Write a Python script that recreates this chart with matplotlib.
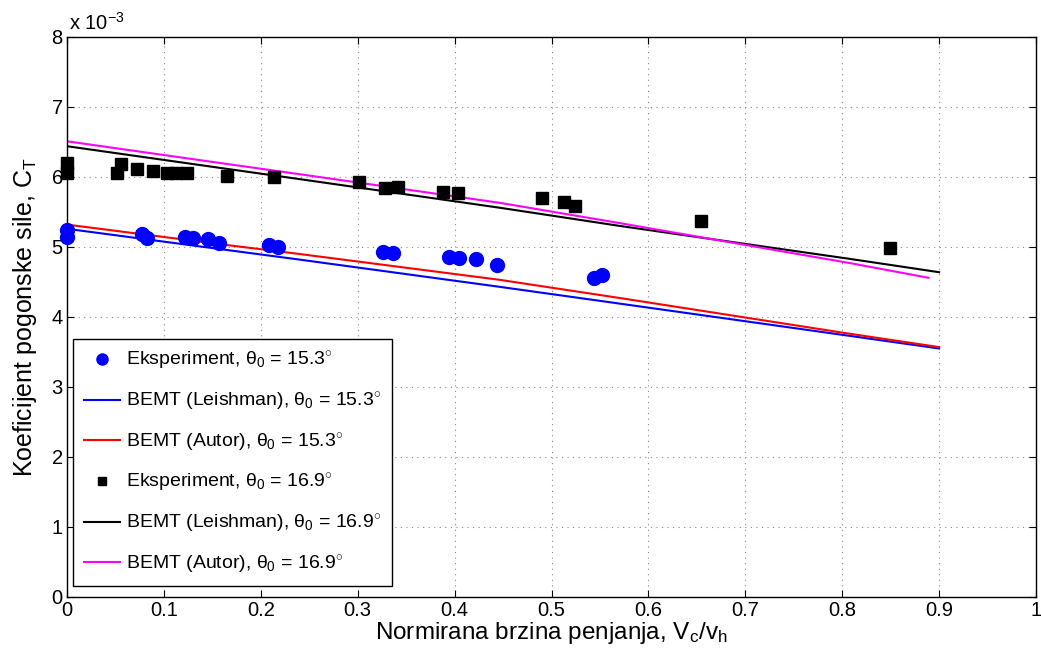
import matplotlib
matplotlib.use("Agg")
import matplotlib.pyplot as plt

plt.rcParams["font.family"] = ["Liberation Sans", "DejaVu Sans"]
plt.rcParams["mathtext.fontset"] = "custom"
plt.rcParams["mathtext.rm"] = "Liberation Sans"
plt.rcParams["mathtext.it"] = "Liberation Sans"

# thrust coefficient values in units of 1e-3
exp153_x = [0, 0, 0.077, 0.083, 0.122, 0.130, 0.146, 0.157, 0.208, 0.218,
            0.326, 0.336, 0.394, 0.405, 0.422, 0.444, 0.544, 0.552]
exp153_y = [5.24, 5.14, 5.19, 5.13, 5.14, 5.13, 5.11, 5.06, 5.03, 5.00,
            4.93, 4.91, 4.86, 4.84, 4.83, 4.74, 4.56, 4.60]

exp169_x = [0, 0, 0.052, 0.056, 0.072, 0.089, 0.103, 0.113, 0.124, 0.165,
            0.214, 0.301, 0.328, 0.342, 0.388, 0.403, 0.490, 0.513, 0.524,
            0.654, 0.849]
exp169_y = [6.20, 6.06, 6.06, 6.19, 6.11, 6.09, 6.06, 6.06, 6.06, 6.02,
            6.00, 5.93, 5.85, 5.86, 5.79, 5.77, 5.70, 5.64, 5.59, 5.37, 4.99]

bemt_x = [0, 0.158, 0.240, 0.447, 0.571, 0.808, 0.900]
leish153 = [5.26, 4.97, 4.82, 4.43, 4.19, 3.73, 3.55]
autor153 = [5.32, 5.04, 4.90, 4.53, 4.27, 3.76, 3.57]
leish169 = [6.44, 6.13, 5.97, 5.56, 5.30, 4.83, 4.64]

autor169_x = [0, 0.158, 0.240, 0.447, 0.571, 0.808, 0.889]
autor169 = [6.51, 6.20, 6.04, 5.63, 5.34, 4.77, 4.56]

fig = plt.figure(figsize=(10.41, 6.53), dpi=100)
ax = fig.add_axes([67 / 1041, 1 - 597 / 653, (1036 - 67) / 1041, (597 - 37) / 653])

th = r"$\theta_0$"
deg = r"$^{\circ}$"
ax.plot(exp153_x, exp153_y, "o", color="#0000ff", ms=10, ls="none",
        clip_on=False, zorder=4, label=f"Eksperiment, {th} = 15.3{deg}")
ax.plot(bemt_x, leish153, color="#0000ff", lw=1.5,
        label=f"BEMT (Leishman), {th} = 15.3{deg}")
ax.plot(bemt_x, autor153, color="#ff0000", lw=1.5,
        label=f"BEMT (Autor), {th} = 15.3{deg}")
ax.plot(exp169_x, exp169_y, "s", color="black", ms=8, ls="none",
        clip_on=False, zorder=4, label=f"Eksperiment, {th} = 16.9{deg}")
ax.plot(bemt_x, leish169, color="black", lw=1.5,
        label=f"BEMT (Leishman), {th} = 16.9{deg}")
ax.plot(autor169_x, autor169, color="#ff00ff", lw=1.5,
        label=f"BEMT (Autor), {th} = 16.9{deg}")

ax.set_xlim(0, 1)
ax.set_ylim(0, 8)
ax.set_xticks([i / 10 for i in range(11)])
ax.set_xticklabels(["0", "0.1", "0.2", "0.3", "0.4", "0.5", "0.6", "0.7", "0.8", "0.9", "1"])
ax.set_yticks(range(9))
ax.tick_params(direction="in", top=True, right=True, labelsize=14.5, length=5, width=0.8, pad=3)
ax.grid(True, ls=(0, (1, 4)), color="#888888", lw=0.8)
for s in ax.spines.values():
    s.set_linewidth(1.0)

ax.set_xlabel("Normirana brzina penjanja, V$_c$/v$_h$", fontsize=17.5, labelpad=0)
ax.set_ylabel("Koeficijent pogonske sile, C$_T$", fontsize=18, labelpad=9)
ax.text(0.002, 1.006, r"x 10$^{-3}$", transform=ax.transAxes, fontsize=14.5,
        ha="left", va="bottom")

leg = ax.legend(loc="lower left", bbox_to_anchor=(0.006, 0.019), fontsize=14,
                frameon=True, fancybox=False, framealpha=1, edgecolor="black",
                handlelength=1.9, labelspacing=0.95, borderpad=0.55,
                handletextpad=0.3, borderaxespad=0, markerscale=0.8)
leg.get_frame().set_linewidth(1.0)

fig.savefig("out.png", dpi=100)
